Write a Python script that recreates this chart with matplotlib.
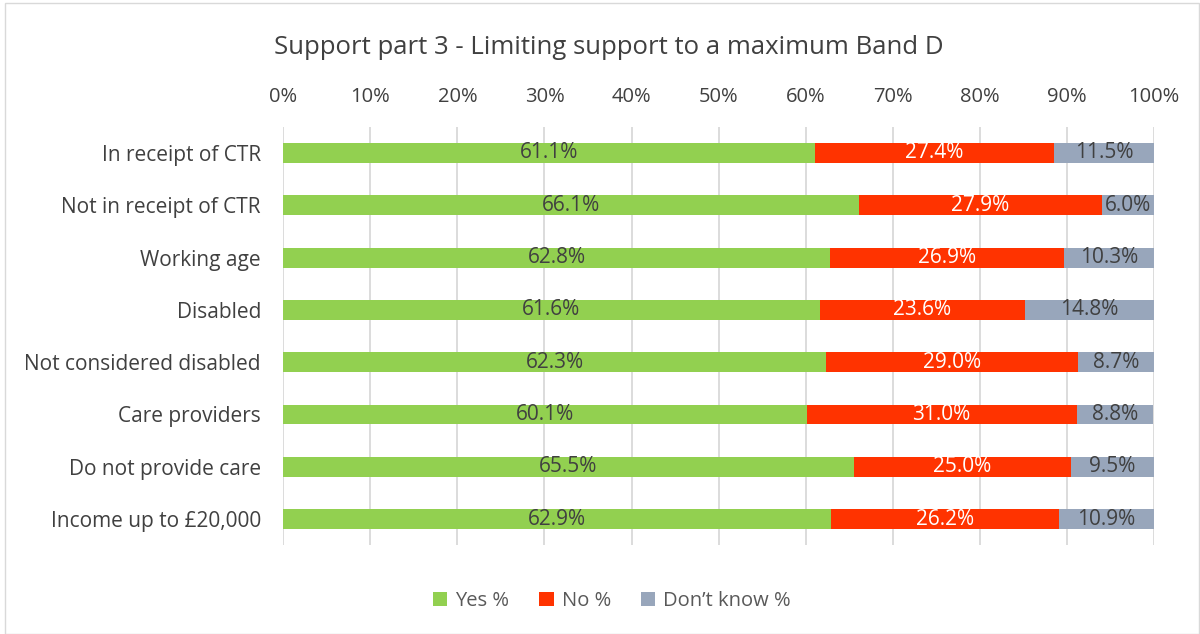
import matplotlib.pyplot as plt
import numpy as np

plt.rcParams['font.family'] = ['Open Sans', 'DejaVu Sans']

categories = ["In receipt of CTR", "Not in receipt of CTR", "Working age", "Disabled",
              "Not considered disabled", "Care providers", "Do not provide care",
              "Income up to £20,000"]
yes = [61.1, 66.1, 62.8, 61.6, 62.3, 60.1, 65.5, 62.9]
no = [27.4, 27.9, 26.9, 23.6, 29.0, 31.0, 25.0, 26.2]
dont_know = [11.5, 6.0, 10.3, 14.8, 8.7, 8.8, 9.5, 10.9]

series = [("Yes %", yes, "#92D050", "#404040"),
          ("No %", no, "#FF3300", "white"),
          ("Don\u2019t know %", dont_know, "#98A6BB", "#404040")]

fig = plt.figure(figsize=(12, 6.34), dpi=100)
ax = fig.add_axes([0.236, 0.140, 0.7257, 0.66])

y = np.arange(len(categories))
left = np.zeros(len(categories))
for name, vals, color, tcolor in series:
    vals = np.array(vals)
    bars = ax.barh(y, vals, left=left, height=0.38, color=color, label=name, zorder=3)
    ax.bar_label(bars, labels=[f"{v:.1f}%" for v in vals], label_type='center',
                 color=tcolor, fontsize=15)
    left += vals

ax.set_ylim(len(categories) - 0.5, -0.5)
ax.set_xlim(0, 100)
ax.set_yticks(y)
ax.set_yticklabels(categories, fontsize=15, color="#404040")
ax.set_xticks(np.arange(0, 101, 10))
ax.set_xticklabels([f"{v}%" for v in range(0, 101, 10)], fontsize=14.5, color="#404040")
ax.xaxis.tick_top()
ax.tick_params(axis='x', length=0, pad=14)
ax.tick_params(axis='y', length=0, pad=16)
ax.grid(axis='x', color="#D9D9D9", linewidth=1.3, zorder=0)
for s in ax.spines.values():
    s.set_visible(False)

fig.text(0.507, 0.925, "Support part 3 - Limiting support to a maximum Band D",
         ha='center', va='center', fontsize=18.5, color="#404040")

leg = fig.legend(loc='center', bbox_to_anchor=(0.51, 0.052), ncol=3, frameon=False,
                 fontsize=14.5, handlelength=0.7, handleheight=0.7, columnspacing=1.5,
                 handletextpad=0.4)
for t in leg.get_texts():
    t.set_color("#595959")

fig.patches.append(plt.Rectangle((0.004, 0.0), 0.995, 0.996, transform=fig.transFigure,
                                 fill=False, edgecolor="#D9D9D9", linewidth=1))

fig.savefig("out.png", dpi=100)
